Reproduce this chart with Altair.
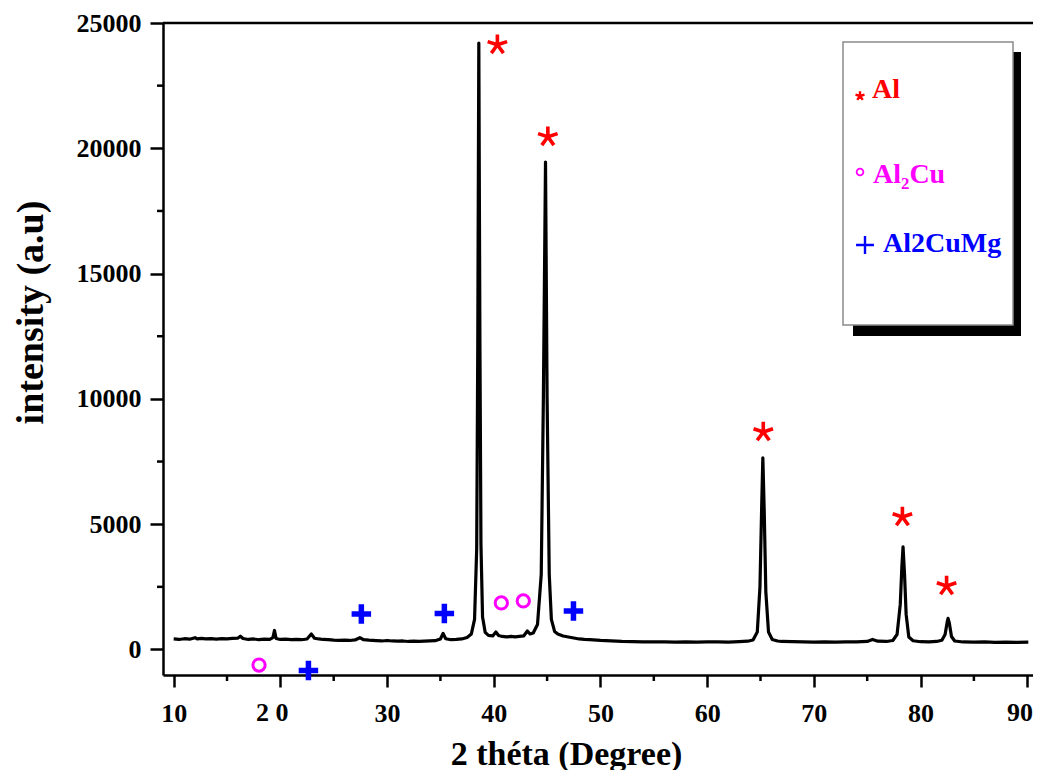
import altair as alt
import pandas as pd

# ---- XRD pattern ----
two_theta = [10.0, 10.5, 11.0, 11.5, 12.0, 12.2, 12.6, 13.0, 13.5, 14.0, 14.5, 15.0, 15.5, 16.0, 16.25, 16.5,
             17.0, 17.5, 18.0, 18.5, 19.0, 19.3, 19.45, 19.6, 20.0, 20.5, 21.0, 21.5, 22.0, 22.5, 22.9, 23.2,
             23.6, 24.0, 24.5, 25.0, 25.5, 26.0, 26.5, 27.0, 27.45, 27.8, 28.3, 29.0, 29.5, 30.0, 30.5, 31.0,
             31.5, 32.0, 32.5, 33.0, 33.5, 34.0, 34.5, 35.0, 35.25, 35.5, 36.0, 36.5, 37.0, 37.5, 37.9, 38.2,
             38.4, 38.5, 38.6, 38.7, 38.8, 38.95, 39.2, 39.5, 39.9, 40.2, 40.45, 40.8, 41.2, 41.6, 42.0, 42.4,
             42.8, 43.15, 43.4, 43.7, 44.1, 44.45, 44.65, 44.85, 45.0, 45.2, 45.4, 45.7, 46.0, 46.5, 47.0, 47.5,
             48.0, 48.5, 49.0, 50.0, 51.0, 52.0, 53.0, 54.0, 55.0, 56.0, 57.0, 58.0, 59.0, 60.0, 61.0, 62.0,
             63.0, 63.8, 64.3, 64.7, 64.95, 65.1, 65.22, 65.35, 65.5, 65.75, 66.1, 66.6, 67.0, 68.0, 69.0, 70.0,
             71.0, 72.0, 73.0, 74.0, 75.0, 75.5, 76.0, 76.8, 77.4, 77.8, 78.1, 78.25, 78.36, 78.5, 78.65, 78.9,
             79.3, 80.0, 80.8, 81.5, 82.0, 82.3, 82.5, 82.58, 82.7, 82.9, 83.2, 84.0, 85.0, 86.0, 87.0, 88.0,
             89.0, 90.1]
intensity = [420, 400, 430, 410, 470, 420, 440, 420, 430, 410, 430, 420, 440, 450, 530, 440,
             400, 420, 390, 410, 400, 470, 760, 440, 400, 410, 390, 400, 390, 420, 620, 450,
             420, 400, 390, 370, 360, 370, 360, 380, 470, 390, 370, 350, 340, 360, 340, 330,
             340, 320, 330, 320, 330, 340, 350, 420, 640, 430, 390, 400, 420, 480, 620, 1200,
             4000, 12000, 24200, 12500, 4200, 1300, 680, 560, 540, 700, 560, 520, 500, 520, 500, 520,
             540, 740, 620, 660, 1000, 3000, 10000, 19450, 10000, 3000, 1200, 720, 620, 540, 500, 460,
             420, 400, 390, 360, 340, 320, 310, 300, 300, 300, 290, 300, 290, 300, 300, 290,
             310, 330, 380, 700, 2500, 5500, 7650, 5500, 2300, 700, 400, 340, 320, 310, 300, 290,
             300, 290, 300, 300, 320, 400, 330, 320, 360, 600, 1800, 3300, 4100, 3000, 1400, 500,
             350, 310, 300, 320, 370, 600, 1100, 1240, 1050, 520, 340, 300, 290, 300, 280, 290,
             280, 290]

# ---- phase markers ----
al_x = [40.34, 45.07, 65.26, 78.3, 82.44]
al_y = [24130, 20460, 8680, 5290, 2535]
al2cu_x = [18.0, 40.71, 42.77]
al2cu_y = [-620, 1856, 1936]
al2cumg_x = [22.63, 27.59, 35.37, 47.47]
al2cumg_y = [-838, 1417, 1437, 1537]

# ---- axis ticks ----
x_major = [10, 20, 30, 40, 50, 60, 70, 80, 90]
x_minor = [15, 25, 35, 45, 55, 65, 75, 85]
y_major = [0, 5000, 10000, 15000, 20000, 25000]
y_minor = [2500, 7500, 12500, 17500, 22500]
x_special_vals = [20]
x_special_text = ["2 0"]

legend_labels = ["Al", "Al₂Cu", "Al2CuMg"]
legend_colors = ["#ff0000", "#ff00ff", "#0000ff"]

W, H = 870, 652
FONT = "Liberation Serif"

x_scale = alt.Scale(domain=[9.0, 90.54], nice=False, zero=False)
y_scale = alt.Scale(domain=[-1018, 25000], nice=False, zero=False)

x_axis = alt.Axis(values=x_major, grid=False, tickSize=12, tickWidth=2.5, tickColor="black",
                  domainColor="black", domainWidth=2.5,
                  labelFont=FONT, labelFontSize=26, labelFontWeight="bold", labelColor="black",
                  labelPadding=13, labelFlush=False, labelOverlap=False,
                  labelExpr="(datum.value == 20 || datum.value == 90) ? '' : datum.label",
                  title="2 théta (Degree)", titleFont=FONT, titleFontSize=34, titleFontWeight="bold",
                  titleColor="black", titleX=403, titleY=89, titleAlign="center",
                  titleBaseline="alphabetic", format="d")
y_axis = alt.Axis(values=y_major, grid=False, tickSize=13, tickWidth=2.5, tickColor="black",
                  domainColor="black", domainWidth=2.5,
                  labelFont=FONT, labelFontSize=26, labelFontWeight="bold", labelColor="black",
                  labelPadding=9, labelFlush=False, labelOverlap=False, format="d",
                  title="intensity (a.u)", titleFont=FONT, titleFontSize=38, titleFontWeight="bold",
                  titleColor="black", titleAngle=270, titleX=-121, titleY=289, titleAlign="center",
                  titleBaseline="alphabetic")

X = alt.X("x:Q", scale=x_scale, axis=x_axis)
Y = alt.Y("y:Q", scale=y_scale, axis=y_axis)

curve_df = pd.DataFrame({"x": two_theta, "y": intensity})
curve = alt.Chart(curve_df).mark_line(color="black", strokeWidth=3.2, strokeJoin="round").encode(x=X, y=Y)

ASTER = "M0,-1L0,0M0,0L0.95,-0.31M0,0L0.59,0.81M0,0L-0.59,0.81M0,0L-0.95,-0.31"
PLUS = "M-1,0L1,0M0,-1L0,1"

al_pts = alt.Chart(pd.DataFrame({"x": al_x, "y": al_y})).mark_point(
    shape=ASTER, size=420, filled=False, color="#ff0000", strokeWidth=3.6, opacity=1, strokeCap="butt"
).encode(x=X, y=Y)
cu_pts = alt.Chart(pd.DataFrame({"x": al2cu_x, "y": al2cu_y})).mark_point(
    shape="circle", size=150, filled=False, color="#ff00ff", strokeWidth=3, opacity=1
).encode(x=X, y=Y)
mg_pts = alt.Chart(pd.DataFrame({"x": al2cumg_x, "y": al2cumg_y})).mark_point(
    shape=PLUS, size=380, filled=False, color="#0000ff", strokeWidth=5.5, opacity=1, strokeCap="butt"
).encode(x=X, y=Y)

minor_x = alt.Chart(pd.DataFrame({"x": x_minor})).mark_rule(color="black", strokeWidth=2.5).encode(
    x=X, y=alt.value(H), y2=alt.value(H + 6))
minor_y = alt.Chart(pd.DataFrame({"y": y_minor})).mark_rule(color="black", strokeWidth=2.5).encode(
    y=Y, x=alt.value(-6), x2=alt.value(0))

# tick labels needing special placement
lbl_style = dict(font=FONT, fontSize=26, fontWeight="bold", color="black", baseline="top")
lbl_20 = alt.Chart(pd.DataFrame({"x": x_special_vals, "t": x_special_text})).mark_text(
    align="center", dx=-8, **lbl_style).encode(x=X, y=alt.value(H + 25), text="t:N")
one = pd.DataFrame({"a": [0]})
lbl_90 = alt.Chart(one).mark_text(text="90", align="right", **lbl_style).encode(
    x=alt.value(W), y=alt.value(H + 25))

top_border = alt.Chart(one).mark_rule(color="black", strokeWidth=2.5).encode(
    x=alt.value(0), x2=alt.value(W), y=alt.value(0))

# legend box (decoration)
shadow = alt.Chart(one).mark_rect(color="black").encode(
    x=alt.value(690), x2=alt.value(858), y=alt.value(29), y2=alt.value(313))
box = alt.Chart(one).mark_rect(fill="white", stroke="#8a8a8a", strokeWidth=1.5).encode(
    x=alt.value(680), x2=alt.value(850), y=alt.value(19), y2=alt.value(302))

leg_ast = alt.Chart(one).mark_point(shape=ASTER, size=90, filled=False, color=legend_colors[0],
                                    strokeWidth=2.4, opacity=1).encode(x=alt.value(697), y=alt.value(73))
leg_cir = alt.Chart(one).mark_point(shape="circle", size=45, filled=False, color=legend_colors[1],
                                    strokeWidth=1.8, opacity=1).encode(x=alt.value(697), y=alt.value(149))
leg_plus = alt.Chart(one).mark_point(shape=PLUS, size=320, filled=False, color=legend_colors[2],
                                     strokeWidth=2.4, opacity=1).encode(x=alt.value(702), y=alt.value(222))

leg_texts = []
for lbl, col, lx, ly in zip(legend_labels, legend_colors, [709, 710, 720], [75, 160, 229]):
    leg_texts.append(alt.Chart(one).mark_text(
        text=lbl, font=FONT, fontSize=28, fontWeight="bold", color=col, align="left",
        baseline="alphabetic").encode(x=alt.value(lx), y=alt.value(ly)))

chart = alt.layer(
    curve, minor_x, minor_y, top_border, lbl_20, lbl_90, al_pts, cu_pts, mg_pts,
    shadow, box, leg_ast, leg_cir, leg_plus, *leg_texts
).properties(
    width=W, height=H,
    autosize=alt.AutoSizeParams(type="none"),
    padding={"left": 155, "top": 15, "right": 0, "bottom": 95},
    background="white",
).configure_view(stroke=None)

chart.save("out.html", embed_options={"renderer": "svg", "actions": False})
